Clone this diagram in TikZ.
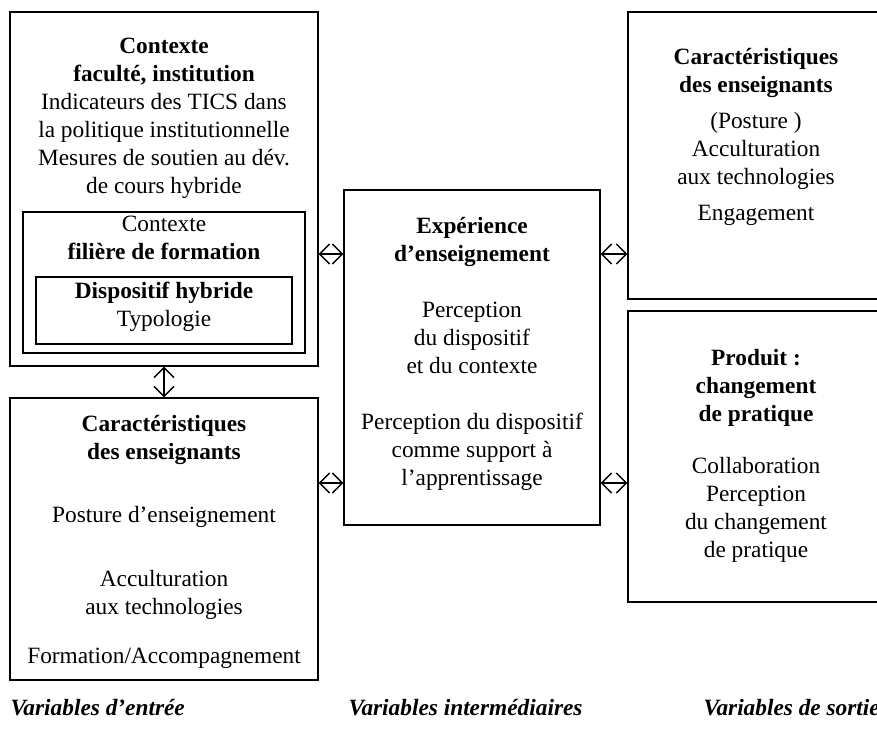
\documentclass[tikz,border=0pt]{standalone}
\usepackage{fontspec}
\setmainfont{Liberation Serif}
\usetikzlibrary{arrows.meta,fit}

\tikzset{every picture/.style={line width=0.75pt}}
\tikzset{
  box/.style={draw, inner sep=0pt, line width=0.8pt},
  txt/.style={anchor=north, align=center, inner sep=0pt, font=\fontsize{17.5}{21}\selectfont},
  lab/.style={anchor=base west, inner sep=0pt, font=\fontsize{17.5}{21}\selectfont\bfseries\itshape},
  link/.style={{Straight Barb[length=7.5pt,width=15pt]}-{Straight Barb[length=7.5pt,width=15pt]}, line width=1.1pt},
}

\begin{document}
\begin{tikzpicture}[x=0.75pt,y=0.75pt,yscale=-1,xscale=1]
\useasboundingbox (0,0) rectangle (877,730);
\clip (0,0) rectangle (877,730);

%Boxes
\node [box, fit={(10,12) (318,366)}] (ctxfac) {};
\node [box, fit={(23,212) (305,353)}] (ctxfil) {};
\node [box, fit={(36,277) (292,344)}] (dispo) {};
\node [box, fit={(10,398) (318,680)}] (ensin) {};
\node [box, fit={(344,190) (600,525)}] (exper) {};
\node [box, fit={(628,12) (884,299)}] (ensout) {};
\node [box, fit={(628,311) (884,602)}] (prod) {};

% Text Node
\node [txt] (ctxfactxt) at (164,38) {\textbf{Contexte}\\\textbf{faculté, institution}\\Indicateurs des TICS dans\\la politique institutionnelle\\Mesures de soutien au dév.\\de cours hybride};
% Text Node
\node [txt] (ctxfiltxt) at (164,216) {Contexte\\\textbf{filière de formation}};
% Text Node
\node [txt] (dispotxt) at (164,282) {\textbf{Dispositif hybride}\\Typologie};
% Text Node
\node [txt] (ensintxt) at (164,415) {\textbf{Caractéristiques}\\\textbf{des enseignants}\\[26pt]Posture d’enseignement\\[27pt]Acculturation\\aux technologies\\[16pt]Formation/Accompagnement};
% Text Node
\node [txt] (expertxt) at (472,217) {\textbf{Expérience}\\\textbf{d’enseignement}\\[21pt]Perception\\du dispositif\\et du contexte\\[21pt]Perception du dispositif\\comme support à\\l’apprentissage};
% Text Node
\node [txt] (ensouttxt) at (756,48) {\textbf{Caractéristiques}\\\textbf{des enseignants}\\[6pt](Posture )\\Acculturation\\aux technologies\\[6pt]Engagement};
% Text Node
\node [txt] (prodtxt) at (756,349) {\textbf{Produit :}\\\textbf{changement}\\\textbf{de pratique}\\[18pt]Collaboration\\Perception\\du changement\\de pratique};

% Column labels
\node [lab] (entree) at (10,715) {Variables d’entrée};
\node [lab] (inter) at (348,715) {Variables intermédiaires};
\node [lab] (sortie) at (703,715) {Variables de sortie};

% Connections
\coordinate (rowtop) at (0,254);
\coordinate (rowbot) at (0,483);
\draw [link] (ctxfac.east |- rowtop) -- (exper.west |- rowtop);
\draw [link] (exper.east |- rowtop) -- (ensout.west |- rowtop);
\draw [link] (ensin.east |- rowbot) -- (exper.west |- rowbot);
\draw [link] (exper.east |- rowbot) -- (prod.west |- rowbot);
\draw [link] (ctxfac.south) -- (ensin.north);

\end{tikzpicture}
\end{document}
